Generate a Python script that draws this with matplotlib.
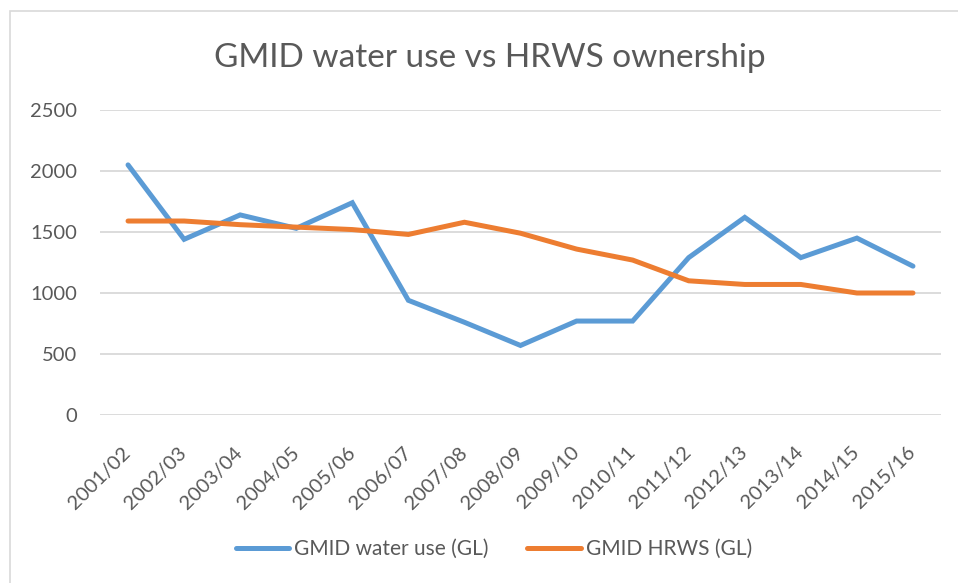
import matplotlib
matplotlib.use("Agg")
import matplotlib.pyplot as plt
from matplotlib.patches import Rectangle

seasons = ["2001/02", "2002/03", "2003/04", "2004/05", "2005/06", "2006/07", "2007/08",
           "2008/09", "2009/10", "2010/11", "2011/12", "2012/13", "2013/14", "2014/15", "2015/16"]
water_use = [2050, 1440, 1640, 1530, 1740, 940, 760, 570, 770, 770, 1290, 1620, 1290, 1450, 1220]
hrws = [1590, 1590, 1560, 1540, 1520, 1480, 1580, 1490, 1360, 1270, 1100, 1070, 1070, 1000, 1000]
yticks = [0, 500, 1000, 1500, 2000, 2500]

plt.rcParams['font.family'] = ['Lato', 'DejaVu Sans']
txt = '#595959'

fig = plt.figure(figsize=(9.58, 5.83), dpi=100)
W, H = 958, 583
fig.patches.append(Rectangle((10 / W, -0.2), 1.2, 1 - 11 / H + 0.2, transform=fig.transFigure,
                             fill=False, edgecolor='#D9D9D9', linewidth=1.2))

ax = fig.add_axes([100 / W, 1 - 415 / H, 841 / W, 305 / H])
x = list(range(len(seasons)))
ax.plot(x, water_use, color='#5B9BD5', linewidth=3.6, solid_capstyle='round',
        solid_joinstyle='miter', label='GMID water use (GL)')
ax.plot(x, hrws, color='#ED7D31', linewidth=3.6, solid_capstyle='round',
        solid_joinstyle='miter', label='GMID HRWS (GL)')

ax.set_xlim(-0.5, len(seasons) - 0.5)
ax.set_ylim(0, 2500)
ax.set_yticks(yticks)
ax.set_yticklabels([str(v) for v in yticks], color=txt, fontsize=14.5)
ax.set_xticks(x)
ax.set_xticklabels(seasons, rotation=45, ha='right', va='center', rotation_mode='anchor',
                   color=txt, fontsize=14.5)
ax.tick_params(axis='both', length=0)
ax.tick_params(axis='y', pad=16.5)
ax.tick_params(axis='x', pad=25)
ax.grid(axis='y', color='#D9D9D9', linewidth=1.3)
ax.set_axisbelow(True)
for s in ax.spines.values():
    s.set_visible(False)

fig.text(490 / W, 1 - 58 / H, 'GMID water use vs HRWS ownership', ha='center', va='center',
         fontsize=24, color=txt)

fig.legend(loc='center', bbox_to_anchor=(494 / W, 1 - 549 / H), ncol=2, frameon=False,
           fontsize=15, labelcolor=txt, handlelength=2.55, columnspacing=1.85, handletextpad=0.25)

fig.savefig('out.png', dpi=100)
